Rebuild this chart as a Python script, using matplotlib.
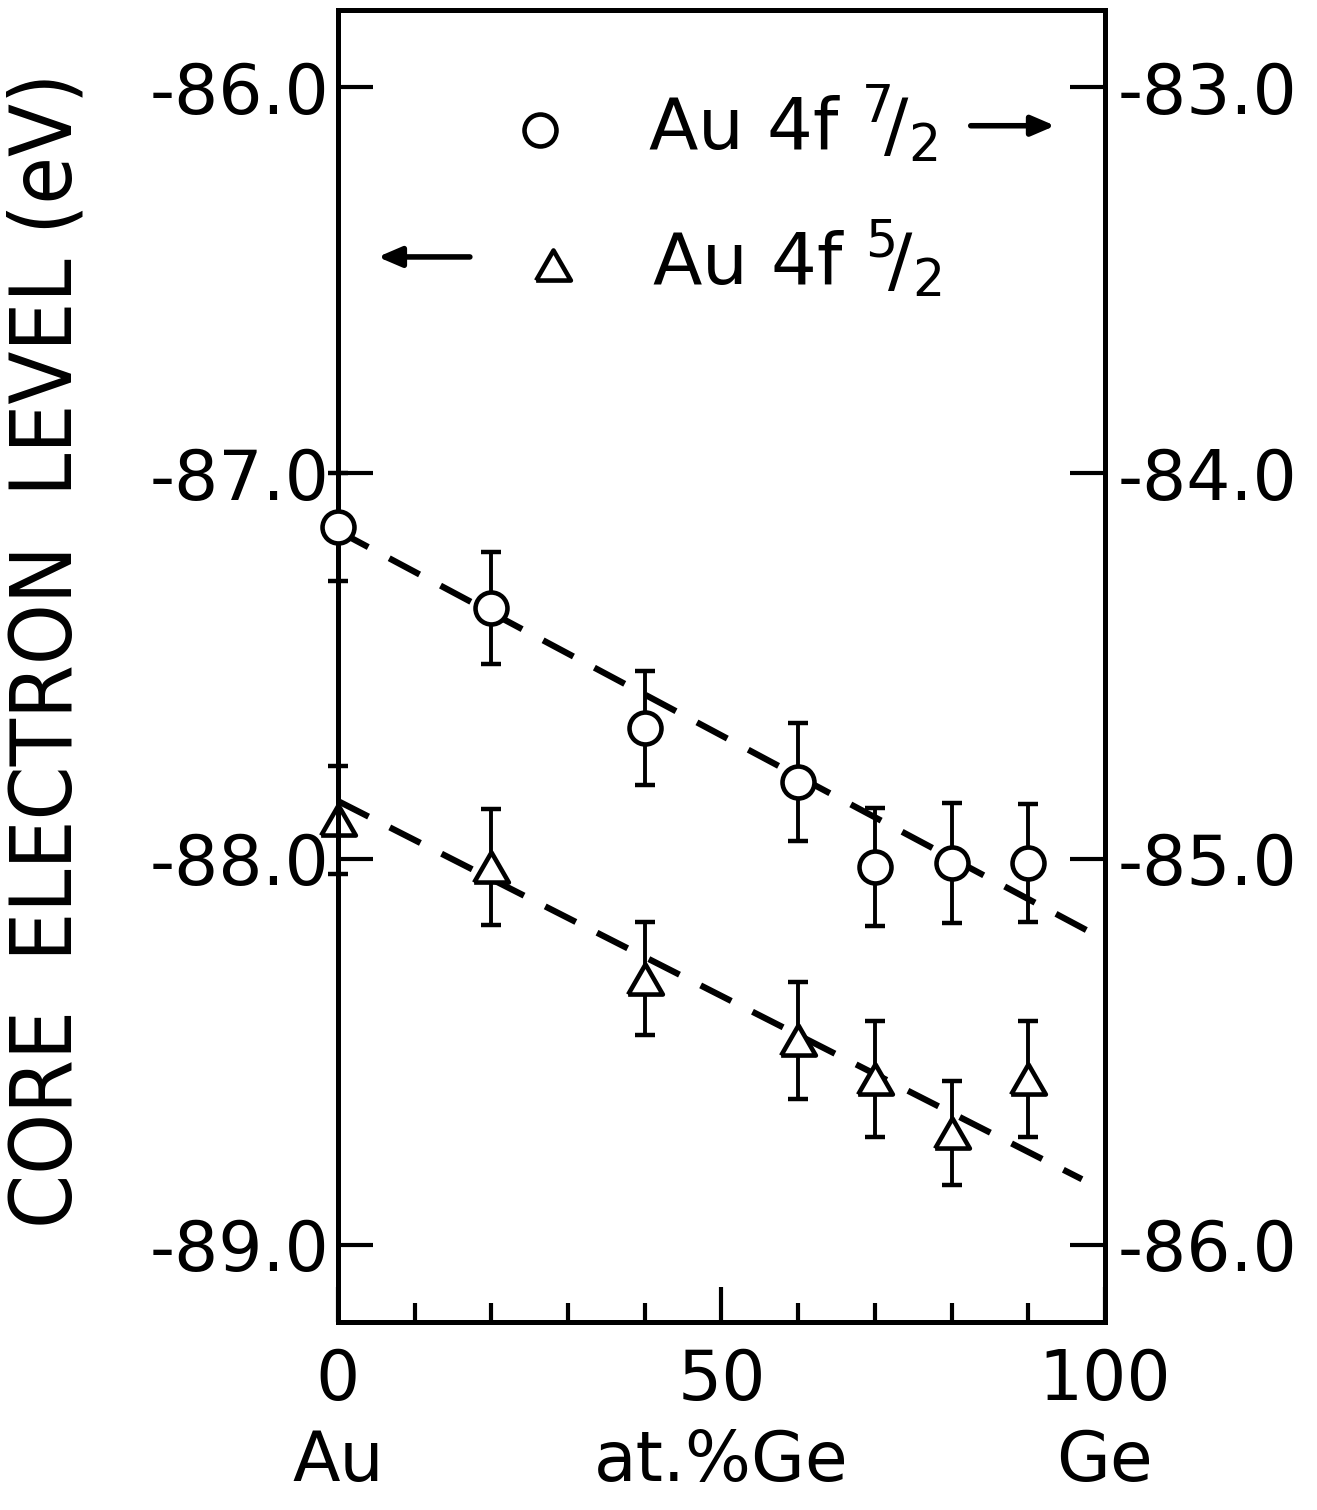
import matplotlib.pyplot as plt
import numpy as np

# composition, at.% Ge
x_ge = [0, 20, 40, 60, 70, 80, 90]

# Au 4f 7/2 core level (read on the right axis, eV)
au_f72 = [-84.14, -84.35, -84.66, -84.80, -85.02, -85.01, -85.01]
au_f72_err = [0.14, 0.145, 0.148, 0.153, 0.153, 0.155, 0.153]

# Au 4f 5/2 core level (read on the left axis, eV)
au_f52 = [-87.90, -88.02, -88.31, -88.47, -88.57, -88.71, -88.57]
au_f52_err = [0.14, 0.15, 0.147, 0.152, 0.15, 0.134, 0.15]

# dashed guide lines (end points)
fit72_x = [0, 100]
fit72_y = [-84.15, -85.21]
fit52_x = [0, 97]
fit52_y = [-87.85, -88.83]

left_ticks = [-86.0, -87.0, -88.0, -89.0]
right_ticks = [-83.0, -84.0, -85.0, -86.0]
x_ticks = [0, 50, 100]
x_labels = ['0\nAu', '50\nat.%Ge', '100\nGe']

fig = plt.figure(figsize=(13.17, 15.10), dpi=100)
ax = fig.add_axes([0.2566, 0.1245, 0.5824, 0.8689])
ax2 = ax.twinx()

tri = [(-1, -0.866), (1, -0.866), (0, 0.866), (-1, -0.866)]
dash = (0, (5.5, 3.8))

# Au 4f 5/2 on left axis
ax.plot(fit52_x, fit52_y, color='k', lw=4.5, ls=dash, zorder=1)
ax.errorbar(x_ge, au_f52, yerr=au_f52_err, fmt='none', ecolor='k',
            elinewidth=2.8, capsize=7, capthick=3.2, zorder=2, clip_on=False)
ax.plot(x_ge, au_f52, ls='none', marker=tri, ms=25, mfc='white', mec='k',
        mew=3.3, zorder=3, clip_on=False)

# Au 4f 7/2 on right axis
ax2.plot(fit72_x, fit72_y, color='k', lw=4.5, ls=dash, zorder=1)
ax2.errorbar(x_ge, au_f72, yerr=au_f72_err, fmt='none', ecolor='k',
             elinewidth=2.8, capsize=7, capthick=3.2, zorder=2, clip_on=False)
ax2.plot(x_ge, au_f72, ls='none', marker='o', ms=23, mfc='white', mec='k',
         mew=3.3, zorder=3, clip_on=False)

ax.set_xlim(0, 100)
ax.set_ylim(-89.20, -85.80)
ax2.set_ylim(-86.20, -82.80)

ax.set_xticks(x_ticks)
ax.set_xticklabels(x_labels)
ax.set_xticks(range(10, 100, 10), minor=True)
ax.set_yticks(left_ticks)
ax.set_yticklabels(['-%.1f' % abs(v) for v in left_ticks])
ax2.set_yticks(right_ticks)
ax2.set_yticklabels(['-%.1f' % abs(v) for v in right_ticks])

ax.tick_params(axis='x', which='major', direction='in', length=25, width=3,
               pad=18, labelsize=50)
ax.tick_params(axis='x', which='minor', direction='in', length=14, width=3)
ax.tick_params(axis='y', direction='in', length=25, width=3, pad=6,
               labelsize=50)
ax2.tick_params(axis='y', direction='in', length=25, width=3, pad=9,
                labelsize=50)
for lbl in ax.get_xticklabels():
    lbl.set_linespacing(1.27)

for a in (ax, ax2):
    for s in a.spines.values():
        s.set_linewidth(3.6)

# legend drawn by hand
ax.plot([26.3], [-86.11], ls='none', marker='o', ms=23, mfc='white',
        mec='k', mew=3.3)
ax.plot([28.0], [-86.46], ls='none', marker=tri, ms=25, mfc='white',
        mec='k', mew=3.3)
ax.text(40.4, -86.095, r'Au 4f $^{7}\!/_{2}$', fontsize=52, va='center',
        ha='left')
ax.text(40.9, -86.445, r'Au 4f $^{5}\!/_{2}$', fontsize=52, va='center',
        ha='left')
arrow = dict(arrowstyle='-|>,head_length=0.7,head_width=0.3', color='k',
             lw=4, mutation_scale=20, shrinkA=0, shrinkB=0)
ax.annotate('', xy=(93.5, -86.10), xytext=(82.5, -86.10), arrowprops=arrow)
ax.annotate('', xy=(5.2, -86.44), xytext=(17.2, -86.44), arrowprops=arrow)

fig.text(48 / 1317, 1 - 650 / 1510, 'CORE  ELECTRON  LEVEL (eV)',
         rotation=90, ha='center', va='center', fontsize=62,
         fontstretch='condensed')

fig.savefig('out.png', dpi=100)
